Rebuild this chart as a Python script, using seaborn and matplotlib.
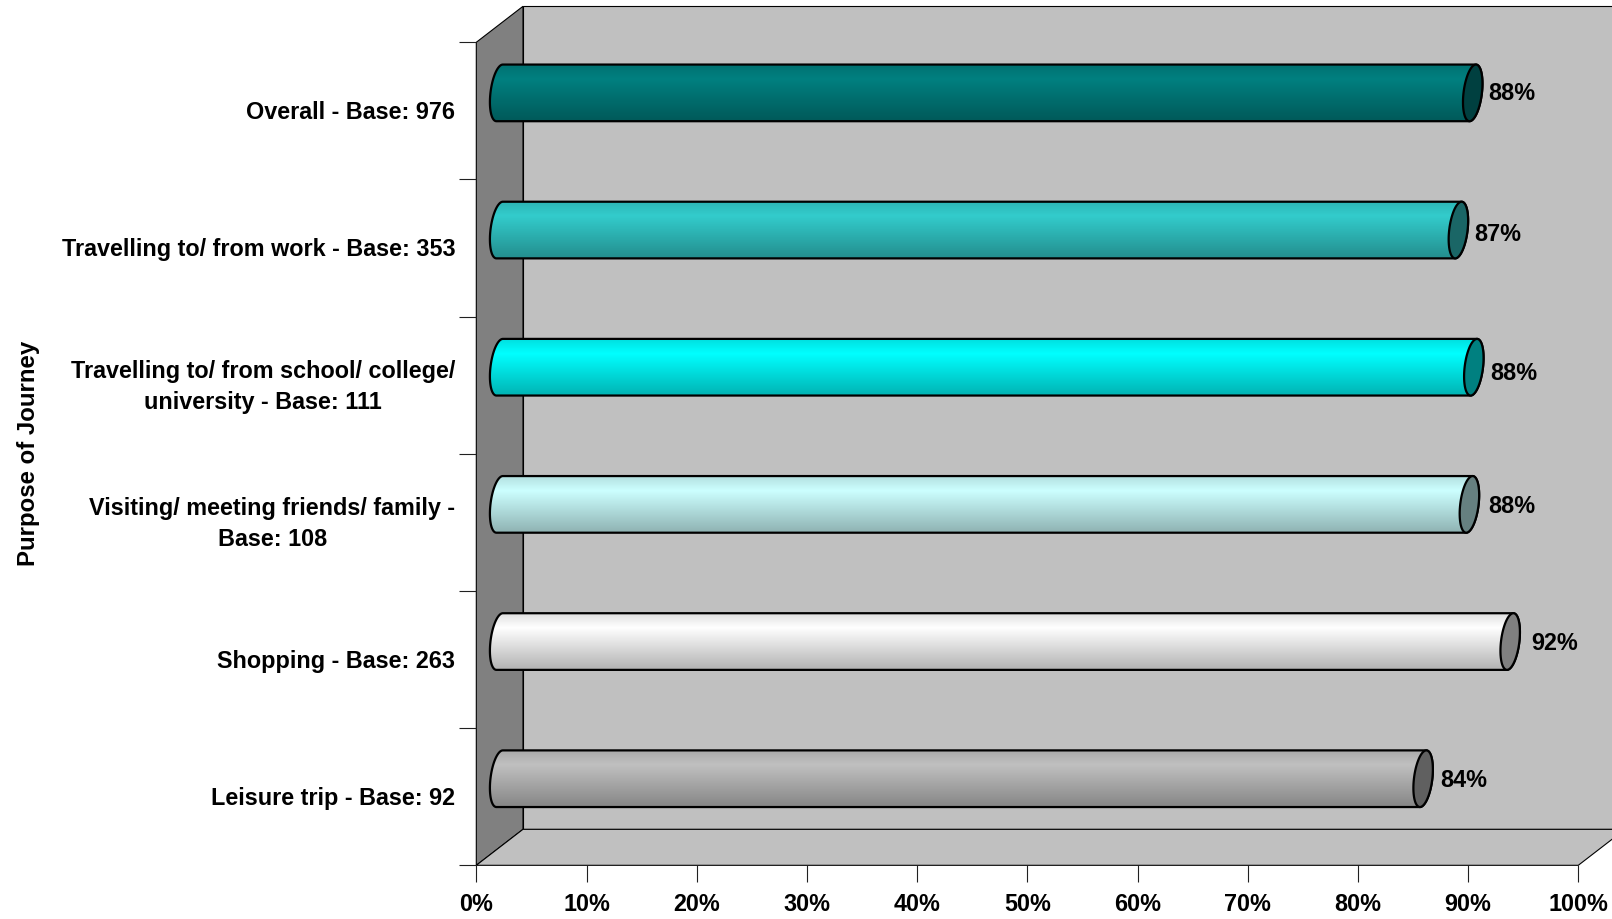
import numpy as np
import pandas as pd
import matplotlib
matplotlib.use("Agg")
import matplotlib.pyplot as plt
from matplotlib.path import Path
from matplotlib.patches import PathPatch, Polygon
from matplotlib.transforms import Affine2D, ScaledTranslation
import seaborn as sns

categories = ["Overall - Base: 976", "Travelling to/ from work - Base: 353",
              "Travelling to/ from school/ college/\nuniversity - Base: 111",
              "Visiting/ meeting friends/ family -\nBase: 108",
              "Shopping - Base: 263", "Leisure trip - Base: 92"]
values = [88.3, 87.0, 88.4, 88.0, 91.7, 83.8]
value_labels = ["88%", "87%", "88%", "88%", "92%", "84%"]
bar_colors = ["#008080", "#33CCCC", "#00FFFF", "#CCFFFF", "#FFFFFF", "#C0C0C0"]
x_ticks = [0, 10, 20, 30, 40, 50, 60, 70, 80, 90, 100]
axis_title = "Purpose of Journey"

# label nudges in pixels, right and up from the end of each bar
label_gap = [16, 16, 16, 19, 21, 17]
label_rise = [-1, -4.5, -6, -2, -2, -2]

W, H = 1612, 919
L, R, T, B = 476.3, 1578.3, 42.3, 865.3
px_x = 100 / (R - L)
px_y = 6 / (B - T)
depth_x, depth_y = 46.7 * px_x, -36.0 * px_y
FS = 16.85

sns.set_theme(style="white")
plt.rcParams["font.family"] = ["Liberation Sans", "DejaVu Sans"]
plt.rcParams["font.weight"] = "bold"
plt.rcParams["ytick.alignment"] = "center"

fig = plt.figure(figsize=(W / 100, H / 100), dpi=100, facecolor="white")
ax = fig.add_axes([L / W, 1 - B / H, (R - L) / W, (B - T) / H])
ax.patch.set_visible(False)
for s in ax.spines.values():
    s.set_visible(False)

df = pd.DataFrame({"value": values, "purpose": categories})
sns.barplot(data=df, x="value", y="purpose", hue="purpose", palette=bar_colors,
            order=categories, hue_order=categories, orient="h", width=0.413,
            saturation=1, legend=False, ax=ax)

# 3D box: back wall, side wall, floor
edge = dict(edgecolor="black", linewidth=0.8, clip_on=False, zorder=0.5)
bk_l, bk_r = depth_x, 100 + depth_x
bk_t, bk_b = -0.5 + depth_y, 5.5 + depth_y
ax.add_patch(Polygon([(bk_l, bk_t), (bk_r, bk_t), (bk_r, bk_b), (bk_l, bk_b)],
                     facecolor="#C0C0C0", **edge))
ax.add_patch(Polygon([(0, -0.5), (bk_l, bk_t), (bk_l, bk_b), (0, 5.5)],
                     facecolor="#808080", **edge))
ax.add_patch(Polygon([(0, 5.5), (100, 5.5), (bk_r, bk_b), (bk_l, bk_b)],
                     facecolor="#C0C0C0", **edge))

# bars sit half way into the box
shift = Affine2D().translate(depth_x / 2, depth_y / 2)
trans = shift + ax.transData
cap_a, cap_s = 9.2 * px_x, 3.2 * px_x


def ring(cx, cy, b, t0, t1, n=60):
    t = np.linspace(t0, t1, n)
    return np.column_stack([cx + cap_a * np.cos(t) + cap_s * np.sin(t), cy - b * np.sin(t)])


rows = np.linspace(0, 1, 57)
shade = np.interp(rows, [0, 0.25, 1], [0.88, 1.0, 0.70])

for i, (bar, col, val) in enumerate(zip(ax.patches, bar_colors, values)):
    cy = bar.get_y() + bar.get_height() / 2
    b = bar.get_height() / 2
    end = bar.get_width()
    bar.set_transform(trans)
    bar.set_linewidth(0)
    bar.set_clip_on(False)
    bar.set_zorder(2)

    pts = np.vstack([ring(0, cy, b, np.pi / 2, 3 * np.pi / 2),
                     ring(end, cy, b, 3 * np.pi / 2, 5 * np.pi / 2)])
    body = Path(np.vstack([pts, pts[:1]]), closed=True)
    clip = PathPatch(body, transform=trans, facecolor="none", edgecolor="none")
    ax.add_patch(clip)

    rgb = np.array(matplotlib.colors.to_rgb(col))
    grad = (shade[:, None] * rgb)[:, None, :]
    im = ax.imshow(grad, extent=(-3, end + 3, cy + b, cy - b), aspect="auto", origin="upper",
                   transform=trans, interpolation="bilinear", zorder=2.1)
    im.set_clip_path(clip)

    ax.add_patch(PathPatch(body, transform=trans, facecolor="none", edgecolor="black",
                           linewidth=1.6, clip_on=False, zorder=2.2))
    cap = ring(end, cy, b, 0, 2 * np.pi, 90)
    ax.add_patch(Polygon(cap, closed=True, transform=trans, facecolor=rgb * 0.5,
                         edgecolor="black", linewidth=1.6, clip_on=False, zorder=2.3))
    ax.annotate(value_labels[i], xy=(end, cy), xycoords=trans,
                xytext=(label_gap[i], label_rise[i]), textcoords="offset pixels",
                ha="left", va="center", fontsize=FS, fontweight="bold", color="black", zorder=3)

ax.set_xlim(0, 100)
ax.set_ylim(5.5, -0.5)
ax.set_xlabel("")
ax.set_ylabel("")

tick_len = 17 * 0.72
ax.set_xticks(x_ticks)
ax.set_xticklabels([f"{t}%" for t in x_ticks], fontsize=FS, fontweight="bold", color="black")
ax.set_yticks(range(len(categories)))
ax.set_yticklabels(categories, fontsize=FS, fontweight="bold", color="black",
                   multialignment="center", linespacing=1.42)
ax.set_yticks(np.arange(-0.5, 6), minor=True)
ax.tick_params(axis="x", which="major", length=tick_len, width=0.8, color="#202020",
               pad=7.5, bottom=True)
ax.tick_params(axis="y", which="major", length=0, pad=15, left=True)
ax.tick_params(axis="y", which="minor", length=tick_len, width=0.8, color="#202020", left=True)

nudge = ScaledTranslation(0, -1.6 / 100, fig.dpi_scale_trans)
for lab in ax.get_yticklabels():
    lab.set_transform(lab.get_transform() + nudge)

fig.text(28.5 / W, 1 - 453.8 / H, axis_title, rotation=90, ha="center", va="center",
         fontsize=FS + 0.4, fontweight="bold", color="black")

fig.savefig("out.png", dpi=100, facecolor="white")
